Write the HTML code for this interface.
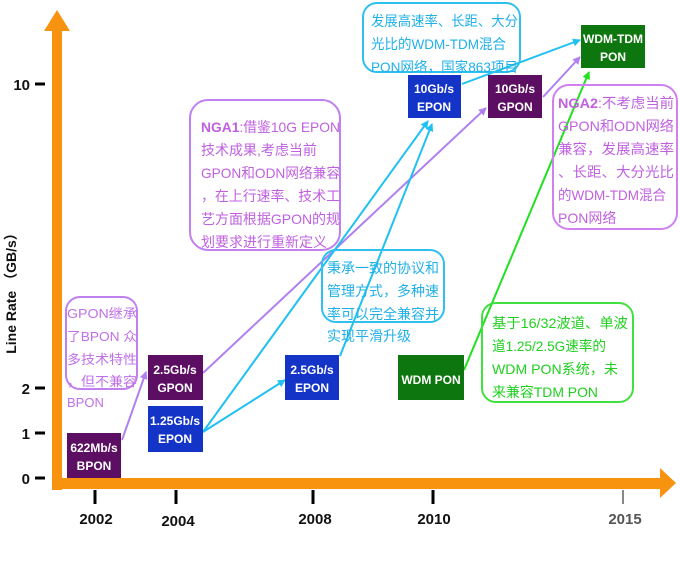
<!DOCTYPE html>
<html><head><meta charset="utf-8"><style>
html,body{margin:0;padding:0;background:#fff;}
svg{display:block;}
text{font-family:"Liberation Sans","Noto Sans CJK SC",sans-serif;}
</style></head><body>
<svg width="680" height="567" viewBox="0 0 680 567" xmlns="http://www.w3.org/2000/svg">
<defs>
<marker id="ap" markerWidth="8" markerHeight="8" refX="7" refY="4" orient="auto" markerUnits="userSpaceOnUse"><path d="M0,0 L8,4 L0,8 z" fill="#b080f0"/></marker>
<marker id="ac" markerWidth="8" markerHeight="8" refX="7" refY="4" orient="auto" markerUnits="userSpaceOnUse"><path d="M0,0 L8,4 L0,8 z" fill="#20c0f0"/></marker>
<marker id="ag" markerWidth="8" markerHeight="8" refX="7" refY="4" orient="auto" markerUnits="userSpaceOnUse"><path d="M0,0 L8,4 L0,8 z" fill="#20e020"/></marker>
</defs>
<rect x="52" y="28" width="10" height="462" fill="#f7930e"/>
<polygon points="44,31 57,10 70,31" fill="#f7930e"/>
<rect x="52" y="478" width="610" height="11" fill="#f7930e"/>
<polygon points="660,468 676,483 660,498" fill="#f7930e"/>
<g stroke="#000" stroke-width="3">
<line x1="35" y1="84" x2="45" y2="84"/><line x1="35" y1="388" x2="45" y2="388"/>
<line x1="35" y1="433" x2="45" y2="433"/><line x1="35" y1="478" x2="45" y2="478"/>
<line x1="95" y1="490" x2="95" y2="504"/><line x1="176" y1="490" x2="176" y2="504"/>
<line x1="313" y1="490" x2="313" y2="504"/><line x1="433" y1="490" x2="433" y2="504"/>
</g>
<line x1="623" y1="490" x2="623" y2="504" stroke="#888" stroke-width="2"/>
<g font-size="15" font-weight="bold" fill="#111">
<text x="30" y="90" text-anchor="end">10</text>
<text x="30" y="394" text-anchor="end">2</text>
<text x="30" y="439" text-anchor="end">1</text>
<text x="30" y="484" text-anchor="end">0</text>
<text x="96" y="524" text-anchor="middle">2002</text>
<text x="178" y="526" text-anchor="middle">2004</text>
<text x="315" y="524" text-anchor="middle">2008</text>
<text x="434" y="524" text-anchor="middle">2010</text>
<text x="625" y="524" text-anchor="middle" fill="#555">2015</text>
</g>
<text transform="translate(16,290) rotate(-90)" font-size="14" font-weight="bold" text-anchor="middle" fill="#111">Line Rate （GB/s）</text>

<g fill="none" stroke-width="2">
<line x1="122" y1="440" x2="146" y2="372" stroke="#b080f0" marker-end="url(#ap)"/>
<line x1="203" y1="373" x2="486" y2="108" stroke="#b080f0" marker-end="url(#ap)"/>
<line x1="543" y1="97" x2="580" y2="57" stroke="#b080f0" marker-end="url(#ap)"/>
<line x1="203" y1="432" x2="285" y2="380" stroke="#20c0f0" marker-end="url(#ac)"/>
<line x1="203" y1="432" x2="428" y2="121" stroke="#20c0f0" marker-end="url(#ac)"/>
<line x1="340" y1="356" x2="432" y2="124" stroke="#20c0f0" marker-end="url(#ac)"/>
<line x1="462" y1="84" x2="580" y2="40" stroke="#20c0f0" marker-end="url(#ac)"/>
<line x1="464" y1="370" x2="589" y2="72" stroke="#20e020" marker-end="url(#ag)"/>
</g>

<g fill="none" stroke-width="2">
<rect x="66" y="297" width="71" height="92" rx="14" stroke="#c080f0"/>
<rect x="190" y="100" width="150" height="150" rx="18" stroke="#c080f0"/>
<rect x="322" y="250" width="122" height="72" rx="14" stroke="#30c0f0"/>
<rect x="363" y="3" width="157" height="69" rx="14" stroke="#30c0f0"/>
<rect x="553" y="85" width="124" height="144" rx="16" stroke="#d080f0"/>
<rect x="482" y="303" width="151" height="99" rx="14" stroke="#40e040"/>
</g>
<g font-size="14">
<g fill="#c070e8" font-size="13">
<text x="67" y="318" textLength="70" lengthAdjust="spacingAndGlyphs">GPON继承</text>
<text x="67" y="341" textLength="70" lengthAdjust="spacingAndGlyphs">了BPON 众</text>
<text x="67" y="364" textLength="70" lengthAdjust="spacingAndGlyphs">多技术特性</text>
<text x="67" y="386" textLength="70" lengthAdjust="spacingAndGlyphs">，但不兼容</text>
<text x="67" y="407">BPON</text>
</g>
<g fill="#c060e0">
<text x="201" y="132" textLength="139" lengthAdjust="spacingAndGlyphs"><tspan font-weight="bold">NGA1</tspan>:借鉴10G EPON</text>
<text x="201" y="155">技术成果,考虑当前</text>
<text x="201" y="178" textLength="139" lengthAdjust="spacingAndGlyphs">GPON和ODN网络兼容</text>
<text x="201" y="201" textLength="139" lengthAdjust="spacingAndGlyphs">，在上行速率、技术工</text>
<text x="201" y="224" textLength="139" lengthAdjust="spacingAndGlyphs">艺方面根据GPON的规</text>
<text x="201" y="247" textLength="126" lengthAdjust="spacingAndGlyphs">划要求进行重新定义</text>
</g>
<g fill="#20b0e8">
<text x="327" y="273" textLength="112" lengthAdjust="spacingAndGlyphs">秉承一致的协议和</text>
<text x="327" y="296" textLength="112" lengthAdjust="spacingAndGlyphs">管理方式，多种速</text>
<text x="327" y="319" textLength="112" lengthAdjust="spacingAndGlyphs">率可以完全兼容并</text>
<text x="327" y="341" textLength="84" lengthAdjust="spacingAndGlyphs">实现平滑升级</text>
<text x="371" y="26" textLength="147" lengthAdjust="spacingAndGlyphs">发展高速率、长距、大分</text>
<text x="371" y="49" textLength="135" lengthAdjust="spacingAndGlyphs">光比的WDM-TDM混合</text>
<text x="371" y="72" textLength="147" lengthAdjust="spacingAndGlyphs">PON网络，国家863项目</text>
</g>
<g fill="#c060e0">
<text x="558" y="108" textLength="116" lengthAdjust="spacingAndGlyphs"><tspan font-weight="bold">NGA2</tspan>:不考虑当前</text>
<text x="558" y="131" textLength="116" lengthAdjust="spacingAndGlyphs">GPON和ODN网络</text>
<text x="558" y="154" textLength="116" lengthAdjust="spacingAndGlyphs">兼容，发展高速率</text>
<text x="558" y="177" textLength="116" lengthAdjust="spacingAndGlyphs">、长距、大分光比</text>
<text x="558" y="200" textLength="108" lengthAdjust="spacingAndGlyphs">的WDM-TDM混合</text>
<text x="558" y="223">PON网络</text>
</g>
<g fill="#20d020">
<text x="492" y="328" textLength="136" lengthAdjust="spacingAndGlyphs">基于16/32波道、单波</text>
<text x="492" y="351" textLength="114" lengthAdjust="spacingAndGlyphs">道1.25/2.5G速率的</text>
<text x="492" y="374" textLength="126" lengthAdjust="spacingAndGlyphs">WDM PON系统，未</text>
<text x="492" y="397" textLength="106" lengthAdjust="spacingAndGlyphs">来兼容TDM PON</text>
</g>
</g>

<rect x="67" y="433" width="54" height="45" fill="#5c0f62"/>
<rect x="148" y="355" width="55" height="45" fill="#5c0f62"/>
<rect x="148" y="406" width="55" height="46" fill="#1434c8"/>
<rect x="285" y="355" width="54" height="45" fill="#1434c8"/>
<rect x="398" y="355" width="66" height="45" fill="#0e760e"/>
<rect x="408" y="75" width="53" height="43" fill="#1434c8"/>
<rect x="488" y="75" width="54" height="43" fill="#5c0f62"/>
<rect x="581" y="25" width="64" height="43" fill="#0e760e"/>
<g font-size="12" font-weight="bold" fill="#fff" text-anchor="middle">
<text x="94" y="452">622Mb/s</text><text x="94" y="470">BPON</text>
<text x="175" y="374">2.5Gb/s</text><text x="175" y="392">GPON</text>
<text x="175" y="425">1.25Gb/s</text><text x="175" y="443">EPON</text>
<text x="312" y="374">2.5Gb/s</text><text x="312" y="392">EPON</text>
<text x="431" y="384">WDM PON</text>
<text x="434" y="93">10Gb/s</text><text x="434" y="111">EPON</text>
<text x="515" y="93">10Gb/s</text><text x="515" y="111">GPON</text>
<text x="613" y="43">WDM-TDM</text><text x="613" y="61">PON</text>
</g>
</svg>
</body></html>
